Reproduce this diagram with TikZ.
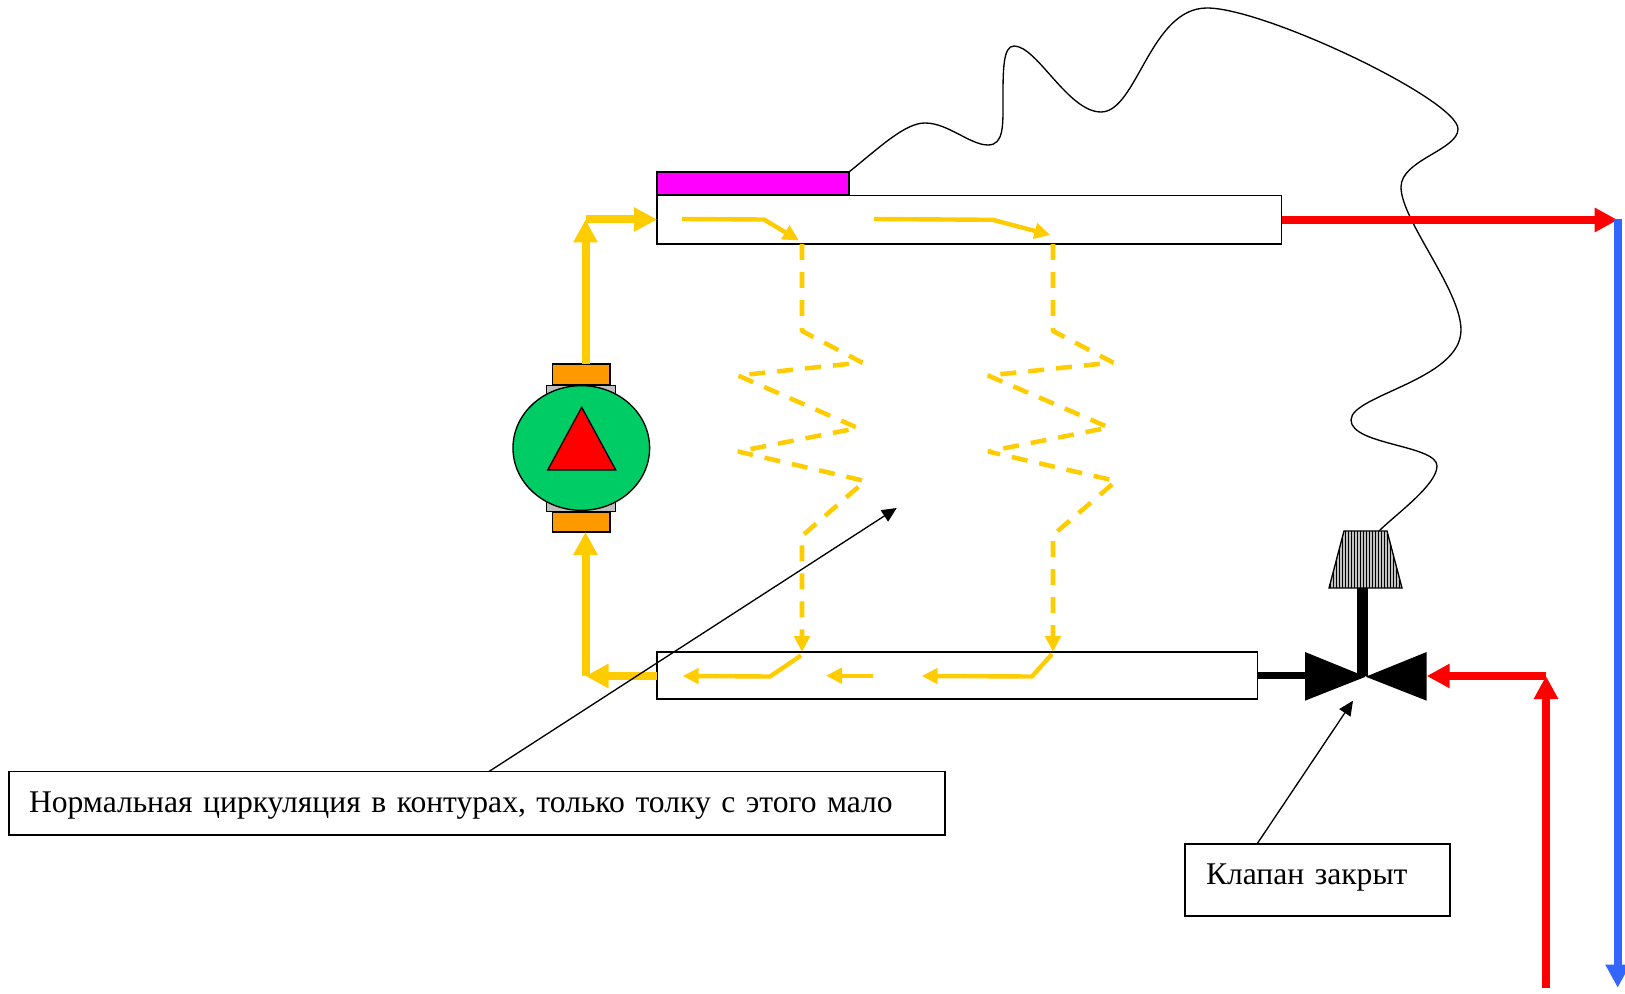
\documentclass[tikz,border=0pt]{standalone}
\usepackage{fontspec}
\setmainfont{Liberation Serif}
\usetikzlibrary{arrows.meta,shapes.geometric}
\definecolor{pipeyellow}{HTML}{FFCC00}
\definecolor{pumpgreen}{HTML}{00CC66}
\definecolor{pumporange}{HTML}{FF9900}
\definecolor{coldblue}{HTML}{3366FF}
\definecolor{sensorgray}{HTML}{C0C0C0}
\definecolor{heatermagenta}{HTML}{FF00FF}
\tikzset{
  x=.75pt,y=-.75pt,
  outline/.style={draw=black,line width=1pt,inner sep=0pt,outer sep=0pt,anchor=north west},
  pipehead/.style={-{Triangle[length=17.25pt,width=17.25pt]}},
  thinhead/.style={-{Triangle[length=12pt,width=11.5pt]}},
  pipe/.style={line width=6pt,pipehead},
  inner flow/.style={draw=pipeyellow,line width=3.3pt,thinhead},
  coil/.style={draw=pipeyellow,line width=3.4pt,line join=bevel,dash pattern=on 12pt off 9pt,thinhead},
  callout/.style={draw=black,line width=1pt,-{Triangle[length=11pt,width=10pt]}},
  labelbox/.style={outline,inner xsep=15pt,inner ysep=0pt,align=left,font=\fontsize{23.7}{26}\selectfont},
}
\begin{document}
\begin{tikzpicture}
\useasboundingbox (0,0) rectangle (1625,994);
% collectors
\node[outline,minimum width=144pt,minimum height=17.25pt,fill=heatermagenta] (heater) at (657,172) {};
\node[outline,minimum width=468.6pt,minimum height=36.4pt] (top) at (657,195.4) {};
\node[outline,minimum width=450.6pt,minimum height=35.25pt] (bottom) at (657,652) {};
% pump
\node[outline,minimum width=51.5pt,minimum height=94.5pt,fill=sensorgray] (pumpbody) at (546.7,385.5) {};
\node[outline,minimum width=43pt,minimum height=15.5pt,fill=pumporange] (pumptop) at (552.7,364) {};
\node[outline,minimum width=43pt,minimum height=15pt,fill=pumporange] (pumpbot) at (552.7,512) {};
\node[ellipse,draw=black,line width=1pt,fill=pumpgreen,minimum width=102.5pt,minimum height=93.5pt,inner sep=0pt,outer sep=0pt] (pump) at (581.3,448) {};
\coordinate (ta) at (581.7,407.3);
\coordinate (tb) at (547.7,470);
\coordinate (tc) at (615.7,470);
\draw[fill=red,line width=1pt,line join=miter] (ta) -- (tb) -- (tc) -- cycle;
% main pipes
\coordinate (pipeT) at (585.5,219.5);
\coordinate (pipeB) at (585.5,676);
\coordinate (topL) at (657,219.5);
\coordinate (botL) at (657,676);
\coordinate (pumpOutS) at (585.5,364);
\coordinate (pumpInE) at (585.5,532);
\draw[pipe,draw=pipeyellow] (pumpOutS) -- (pipeT);
\draw[pipe,draw=pipeyellow] (pipeT) -- (topL);
\draw[pipe,draw=pipeyellow] (pipeB) -- (pumpInE);
\draw[pipe,draw=pipeyellow] (botL) -- (pipeB);
% inner flows
\coordinate (f1a) at (682,219);
\coordinate (f1b) at (764,219.5);
\coordinate (f1c) at (799,240.5);
\coordinate (f2a) at (874,219);
\coordinate (f2b) at (992.6,219.8);
\coordinate (f2c) at (1050.5,235);
\draw[inner flow] (f1a) -- (f1b) -- (f1c);
\draw[inner flow] (f2a) -- (f2b) -- (f2c);
\coordinate (b1a) at (801,655.5);
\coordinate (b1b) at (770,676.5);
\coordinate (b1c) at (682.7,676);
\coordinate (b2a) at (873.3,675.7);
\coordinate (b2b) at (826,675.7);
\coordinate (b3a) at (1052,654);
\coordinate (b3b) at (1032,676.5);
\coordinate (b3c) at (921.7,676);
\draw[inner flow] (b1a) -- (b1b) -- (b1c);
\draw[inner flow] (b2a) -- (b2b);
\draw[inner flow] (b3a) -- (b3b) -- (b3c);
% radiator coils
\coordinate (c1s) at (802,244);
\coordinate (c1e) at (802,652);
\coordinate (c2s) at (1053,244);
\coordinate (c2e) at (1053,652);
\draw[coil] (c1s) -- (802,331) -- (862,362.5) -- (738,375.5) -- (858,428) -- (738,451.5) -- (865,481) -- (802,536) -- (c1e);
\draw[coil] (c2s) -- (1053,331) -- (1113,362.5) -- (988,375.5) -- (1109,427.5) -- (988,451.5) -- (1116,481) -- (1053,535) -- (c2e);
% valve
\coordinate (vc) at (1365.7,676.7);
\coordinate (vl1) at (1305,652);
\coordinate (vl2) at (1305,700.7);
\coordinate (vr1) at (1426.7,652);
\coordinate (vr2) at (1426.7,700.7);
\fill[black] (vc) -- (vl1) -- (vl2) -- cycle;
\fill[black] (vc) -- (vr1) -- (vr2) -- cycle;
\coordinate (vin) at (1305,675.7);
\coordinate (bR) at (1258,675.7);
\draw[line width=5.6pt] (bR) -- (vin);
% thermostat head
\coordinate (h1) at (1344,531);
\coordinate (h2) at (1387,531);
\coordinate (h3) at (1402,588);
\coordinate (h4) at (1329,588);
\fill[sensorgray] (h1) -- (h2) -- (h3) -- (h4) -- cycle;
\begin{scope}
\clip (h1) -- (h2) -- (h3) -- (h4) -- cycle;
\foreach \i in {0,...,25}{\draw[line width=.75pt] (1327+\i*3,531) -- (1327+\i*3,588);}
\end{scope}
\draw[line width=1pt,line join=miter] (h1) -- (h2) -- (h3) -- (h4) -- cycle;
\coordinate (stemT) at (1362.5,588);
\coordinate (stemB) at (1362.5,675.5);
\draw[line width=8.6pt] (stemT) -- (stemB);
% capillary
\coordinate (capE) at (1379,531);
\draw[line width=1pt] (heater.north east)
 .. controls (880,147) and (905,123) .. (925,123)
 .. controls (948,123) and (970,145) .. (988,145)
 .. controls (1004,145) and (1003,125) .. (1003,100)
 .. controls (1003,70) and (1003,46) .. (1014,46)
 .. controls (1037,46) and (1068,112) .. (1101,112)
 .. controls (1137,112) and (1150,8) .. (1207,8)
 .. controls (1265,8) and (1458,100) .. (1458,129)
 .. controls (1458,150) and (1401,160) .. (1401,187)
 .. controls (1401,220) and (1461,290) .. (1461,330)
 .. controls (1461,380) and (1351,395) .. (1351,420)
 .. controls (1351,445) and (1437,445) .. (1437,466)
 .. controls (1437,485) and (1395,515) .. (capE);
% hot and cold lines
\coordinate (topR) at (1282,220);
\coordinate (cornerR) at (1617.7,220);
\coordinate (corner) at (1617.7,219.5);
\coordinate (blueE) at (1617.7,987.7);
\draw[pipe,draw=red] (topR) -- (cornerR);
\draw[pipe,draw=coldblue] (corner) -- (blueE);
\coordinate (redS) at (1546,987.7);
\coordinate (redC) at (1546,676);
\coordinate (valveR) at (1426.7,676);
\draw[pipe,draw=red] (redS) -- (redC);
\draw[pipe,draw=red] (redC) -- (valveR);
% labels
\node[labelbox,text width=672pt,text height=30.4pt,text depth=17.25pt] (note) at (9,771.5) {Нормальная циркуляция в контурах, только толку с этого мало};
\node[labelbox,inner xsep=15.75pt,text width=167.25pt,text height=30pt,text depth=24pt] (closed) at (1185,844) {Клапан закрыт};
\coordinate (noteS) at (489,771.5);
\coordinate (noteT) at (896.7,508);
\coordinate (closedS) at (1257,844);
\coordinate (closedT) at (1353,700.7);
\draw[callout] (noteS) -- (noteT);
\draw[callout] (closedS) -- (closedT);
\end{tikzpicture}
\end{document}
